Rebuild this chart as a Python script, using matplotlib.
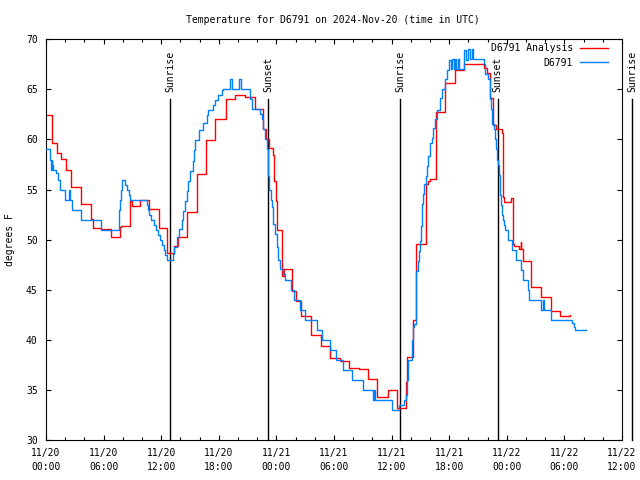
import matplotlib
matplotlib.use("Agg")
import matplotlib.pyplot as plt
from matplotlib.ticker import MultipleLocator, FixedLocator

# hours since 2024-11-20 00:00 UTC
analysis_hours = [0.05, 0.65, 1.1, 1.6, 2.05, 2.6, 3.65, 4.7, 4.85, 5.75, 6.8, 7.7, 7.85, 8.8, 9.0,
                  9.8, 10.7, 11.8, 12.6, 13.3, 13.8, 14.7, 15.7, 16.7, 17.6, 18.8, 19.7, 20.7, 21.75,
                  22.6, 22.9, 23.2, 23.65, 23.8, 23.95, 24.05, 24.6, 24.75, 25.6, 26.0, 26.6, 27.6,
                  28.6, 29.6, 30.6, 31.6, 32.6, 33.5, 34.5, 35.6, 36.6, 37.5, 37.6, 38.25, 38.5,
                  39.55, 39.8, 40.0, 40.6, 41.6, 42.6, 43.5, 45.6, 45.95, 46.3, 46.6, 46.9, 47.5,
                  47.56, 47.7, 48.4, 48.65, 48.8, 49.3, 49.45, 49.5, 49.65, 50.55, 51.6, 52.6, 53.5,
                  54.6]
analysis_temps = [62.4, 59.6, 58.6, 58.1, 57.0, 55.3, 53.6, 52.1, 51.2, 51.1, 50.3, 51.3, 51.4, 53.9, 53.4,
                  54.0, 53.1, 51.2, 48.7, 49.4, 50.3, 52.8, 56.6, 59.9, 62.0, 64.0, 64.4, 64.2, 63.0,
                  61.0, 60.0, 59.1, 58.5, 55.9, 53.9, 51.0, 46.4, 47.1, 44.9, 43.9, 42.4, 40.5,
                  39.4, 38.2, 37.9, 37.2, 37.1, 36.1, 34.3, 35.0, 33.2, 35.8, 38.3, 42.0, 49.6,
                  55.6, 55.9, 56.1, 62.7, 65.6, 66.9, 67.5, 67.1, 66.6, 64.1, 61.4, 61.0, 60.6,
                  54.3, 53.8, 54.2, 49.6, 49.4, 49.1, 49.8, 49.1, 47.9, 45.3, 44.3, 42.9, 42.4,
                  42.5]

obs_hours = [0.05, 0.42, 0.55, 0.6, 0.65, 0.76, 1.0, 1.25, 1.46, 1.94, 2.4, 2.5, 2.74, 3.6, 5.77,
             7.57, 7.65, 7.72, 7.8, 7.9, 8.26, 8.46, 8.65, 8.8, 10.56, 10.66, 10.76, 10.97, 11.2,
             11.46, 11.67, 11.9, 12.08, 12.26, 12.43, 12.6, 12.78, 13.26, 13.37, 13.6, 13.9, 14.13,
             14.3, 14.48, 14.65, 14.83, 15.0, 15.28, 15.42, 15.52, 15.97, 16.39, 16.74, 16.9, 17.43,
             17.6, 17.95, 18.3, 18.47, 19.17, 19.4, 20.1, 20.3, 21.25, 21.5, 22.3, 22.5, 22.6,
             22.8, 23.0, 23.16, 23.26, 23.4, 23.5, 23.6, 23.68, 23.85, 24.03, 24.2, 24.4, 24.65,
             24.9, 25.5, 25.8, 26.46, 27.0, 28.26, 28.7, 29.58, 30.2, 30.9, 31.84, 33.05, 34.1,
             34.17, 34.3, 36.0, 36.8, 37.3, 37.5, 37.64, 37.75, 38.1, 38.2, 38.3, 38.54, 38.78,
             38.9, 38.96, 39.06, 39.13, 39.2, 39.3, 39.4, 39.55, 39.65, 39.8, 40.0, 40.2, 40.35,
             40.5, 40.7, 41.04, 41.2, 41.56, 41.74, 42.0, 42.15, 42.3, 42.45, 42.6, 42.75, 42.9,
             43.05, 43.54, 43.75, 44.0, 44.2, 44.35, 44.5, 45.6, 45.75, 46.0, 46.2, 46.3, 46.4,
             46.5, 46.65, 46.75, 46.85, 46.95, 47.1, 47.15, 47.25, 47.3, 47.4, 47.5, 47.6, 47.75,
             47.8, 48.15, 48.5, 48.95, 49.45, 49.65, 50.2, 50.3, 51.6, 51.75, 51.9, 52.6, 54.8,
             54.95, 55.1, 56.25]
obs_temps = [59.0, 58.0, 57.0, 58.0, 57.5, 57.0, 56.7, 56.0, 55.0, 54.0, 55.0, 54.0, 53.0, 52.0, 51.0,
             52.0, 53.0, 54.0, 55.0, 56.0, 55.5, 55.0, 54.5, 54.0, 53.5, 53.0, 52.5, 52.0, 51.5,
             51.0, 50.5, 50.0, 49.5, 49.0, 48.5, 48.0, 48.0, 48.6, 49.3, 50.3, 51.1, 52.0,
             52.9, 53.9, 54.9, 55.9, 56.9, 57.9, 58.9, 59.9, 60.9, 61.6, 62.4, 62.9, 63.4,
             63.9, 64.4, 64.9, 65.0, 66.0, 65.0, 66.0, 65.0, 64.0, 63.0, 62.5, 62.0, 61.0,
             60.0, 59.0, 56.4, 55.0, 54.0, 53.3, 52.3, 51.6, 50.6, 49.3, 48.0, 47.1, 46.6,
             46.0, 45.0, 44.0, 43.0, 42.0, 41.0, 40.0, 39.0, 38.0, 37.0, 36.0, 35.0, 34.0,
             35.0, 34.0, 33.0, 33.5, 34.0, 34.5, 36.0, 38.0, 40.0, 41.3, 41.6, 46.9, 47.9,
             48.9, 49.9, 51.4, 52.6, 53.6, 54.6, 55.6, 56.4, 57.4, 58.4, 59.6, 60.1, 61.1,
             62.0, 62.9, 64.1, 65.0, 66.0, 66.9, 67.9, 67.0, 68.0, 67.0, 68.0, 67.0, 68.0,
             67.0, 68.9, 67.9, 69.0, 68.0, 69.0, 68.0, 67.5, 66.5, 66.0, 65.0, 64.0, 63.0,
             61.5, 61.0, 60.0, 59.0, 58.0, 57.5, 56.5, 55.5, 54.5, 53.5, 52.5, 52.0, 51.5,
             51.0, 50.0, 49.0, 48.0, 47.0, 46.0, 45.0, 44.0, 43.0, 44.0, 43.0, 42.0, 41.7,
             41.3, 41.0, 41.0]

sun_hours = [12.95, 23.16, 36.88, 47.05, 61.07]
sun_labels = ["Sunrise", "Sunset", "Sunrise", "Sunset", "Sunrise"]

xtick_hours = [0, 6, 12, 18, 24, 30, 36, 42, 48, 54, 60]
xtick_labels = ["11/20\n00:00", "11/20\n06:00", "11/20\n12:00", "11/20\n18:00", "11/21\n00:00",
                "11/21\n06:00", "11/21\n12:00", "11/21\n18:00", "11/22\n00:00", "11/22\n06:00",
                "11/22\n12:00"]

plt.rcParams['font.family'] = ['DejaVu Sans Mono']
FS = 7

fig = plt.figure(figsize=(6.4, 4.8), dpi=100)
ax = fig.add_axes([46/640, 1-440/480, (622-46)/640, (440-39.3)/480])

for h, lab in zip(sun_hours, sun_labels):
    ax.plot([h, h], [30, 64.0], color='black', lw=1.0, clip_on=False, zorder=1)
    ax.text(h, 64.7, lab, rotation=90, ha='center', va='bottom', fontsize=FS, clip_on=False)

ax.plot(analysis_hours, analysis_temps, drawstyle='steps-post', color='#ff0000', lw=1.0,
        label='D6791 Analysis', zorder=2)
ax.plot(obs_hours, obs_temps, drawstyle='steps-post', color='#0080ff', lw=1.0,
        label='D6791', zorder=3)

ax.set_xlim(0, 60)
ax.set_ylim(30, 70)
ax.xaxis.set_major_locator(FixedLocator(xtick_hours))
ax.set_xticklabels(xtick_labels, fontsize=FS, linespacing=1.45)
ax.xaxis.set_minor_locator(MultipleLocator(2))
ax.yaxis.set_major_locator(MultipleLocator(5))
ax.tick_params(axis='both', which='both', direction='in', top=True, right=True, width=0.8,
               labelsize=FS)
ax.tick_params(axis='both', which='major', length=3.5)
ax.tick_params(axis='both', which='minor', length=2)
ax.tick_params(axis='x', which='major', pad=6)
ax.tick_params(axis='y', which='major', pad=6)
for s in ax.spines.values():
    s.set_linewidth(0.8)

ax.set_ylabel('degrees F', fontsize=FS, labelpad=8)

fig.text(332.5/640, 1-20/480, 'Temperature for D6791 on 2024-Nov-20 (time in UTC)',
         ha='center', va='center', fontsize=FS)

leg = ax.legend(loc='upper right', bbox_to_anchor=(610/640, 1-41/480), bbox_transform=fig.transFigure,
                frameon=False, markerfirst=False, fontsize=FS, handlelength=2.9,
                handletextpad=0.7, labelspacing=0.5, borderpad=0.2, borderaxespad=0)

fig.savefig('out.png', dpi=100)
